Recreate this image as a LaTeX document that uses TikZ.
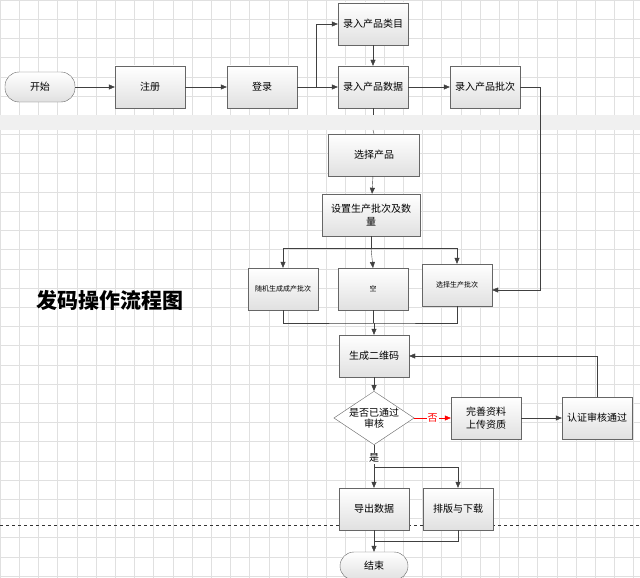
\documentclass[tikz,border=0pt]{standalone}
\usepackage{fontspec}
\setmainfont{Noto Sans CJK SC}
\usetikzlibrary{shapes.geometric,arrows.meta}
\begin{document}
\begin{tikzpicture}[x=1pt,y=-1pt,
  bx/.style={draw=black!60,top color=white,bottom color=black!12,minimum width=70pt,minimum height=42pt,inner sep=2pt,align=center,font=\fontsize{10}{13}\selectfont},
  term/.style={draw=black!60,top color=white,bottom color=black!12,rounded corners=14pt,minimum width=70pt,minimum height=30pt,font=\fontsize{10}{12}\selectfont},
  dia/.style={draw=black!60,fill=white,diamond,aspect=1.5,minimum width=68pt,minimum height=46pt,inner sep=0pt,align=center,font=\fontsize{10}{11}\selectfont},
  ar/.style={draw=black!75,-{Triangle[width=5pt,length=6pt]}},
  ln/.style={draw=black!75}]
\useasboundingbox (0,0) rectangle (640,578);
\fill[white] (0,0) rectangle (640,578);
\draw[black!12,step=19.2pt] (0,0) grid (640,578);
\fill[black!6] (0,115) rectangle (640,130);
\draw[dashed,black!80] (0,525) -- (640,525);
\node[font=\bfseries\fontsize{21}{24}\selectfont] (title) at (110,300) {发码操作流程图};
\node[term] (start) at (40,87) {开始};
\node[bx] (reg) at (150,87) {注册};
\node[bx] (login) at (262,87) {登录};
\node[bx] (cat) at (373,24) {录入产品类目};
\node[bx] (data) at (373,87) {录入产品数据};
\node[bx] (batch) at (485,87) {录入产品批次};
\node[bx,minimum width=91pt] (sel) at (374,155) {选择产品};
\node[bx,minimum width=98pt,text width=92pt] (set) at (371,215) {设置生产批次及数\\量};
\node[bx,font=\fontsize{7}{8}\selectfont] (rand) at (283,289) {随机生成成产批次};
\node[bx,font=\fontsize{7}{8}\selectfont] (empty) at (373,289) {空};
\node[bx,font=\fontsize{7}{8}\selectfont] (selb) at (457,285) {选择生产批次};
\node[bx] (qr) at (374,356) {生成二维码};
\node[dia] (chk) at (374,418) {是否已通过\\审核};
\node[bx] (comp) at (486,418) {完善资料\\上传资质};
\node[bx] (auth) at (597,418) {认证审核通过};
\node[bx] (exp) at (374,509) {导出数据};
\node[bx] (lay) at (458,509) {排版与下载};
\node[term,minimum width=68pt,minimum height=28pt] (end) at (374,566) {结束};
\coordinate (j1) at (316,87);
\draw[ar] (start) -- (reg);
\draw[ar] (reg) -- (login);
\draw[ar] (login) -- (data);
\draw[ar] (j1) |- (cat.west);
\draw[ar] (cat) -- (data);
\draw[ar] (data) -- (batch);
\draw[ln] (data.south) -- (373,115);
\draw[ln] (373,130) -- (sel.north);
\draw[ar] (sel) -- (set);
\coordinate (s1) at (371,248);
\draw[ln] (set.south) -- (s1);
\draw[ar] (s1) -| (rand.north);
\draw[ar] (s1) -| (selb.north);
\draw[ar] (s1) -- (373,268);
\draw[ar] (batch.east) -| (540,290) -- (selb.east |- 0,290);
\coordinate (m1) at (374,323);
\draw[ln] (rand.south) |- (m1) -| (selb.south);
\draw[ln] (empty.south) -- (373,323);
\draw[ar] (m1) -- (qr);
\draw[ar] (qr) -- (chk);
\draw[ar,draw=red] (chk) -- node[fill=white,text=red,inner sep=1pt,font=\fontsize{10}{11}\selectfont]{否} (comp);
\draw[ar] (comp) -- (auth);
\draw[ar] (auth.north) |- (qr.east);
\coordinate (y1) at (374,467);
\draw[ln] (chk.south) -- node[pos=0.6,fill=white,inner sep=1pt,font=\fontsize{10}{11}\selectfont]{是} (y1);
\draw[ar] (y1) -- (exp);
\draw[ar] (y1) -| (lay.north);
\coordinate (e1) at (374,541);
\draw[ln] (lay.south) |- (e1);
\draw[ar] (exp.south) -- (end);
\end{tikzpicture}
\end{document}
